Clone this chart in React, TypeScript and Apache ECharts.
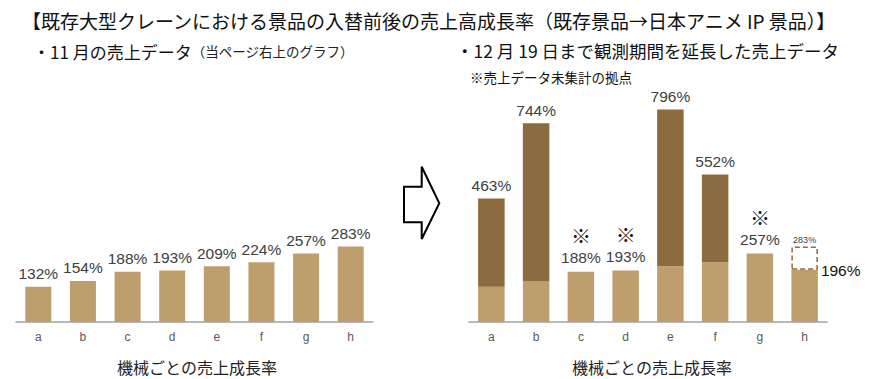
import React, { useEffect, useRef } from "react";
import * as echarts from "echarts";

const categories = ["a", "b", "c", "d", "e", "f", "g", "h"];
// November sales growth (left chart)
const novemberRates = [132, 154, 188, 193, 209, 224, 257, 283];
// Extended period (to Dec 19): light base part of each bar
const extendedBase = [132, 154, 188, 193, 209, 224, 257, 196];
// Extended period totals (dark top part reaches these)
const extendedTotals: (number | null)[] = [463, 744, null, null, 796, 552, null, null];
// Previous value shown as dashed box (machine h)
const previousRates: (number | null)[] = [null, null, null, null, null, null, null, 283];
// Locations whose sales data is not yet aggregated (marked with ※)
const uncounted = ["c", "d", "g"];

const titleText = "【既存大型クレーンにおける景品の入替前後の売上高成長率（既存景品→日本アニメ IP 景品）】";
const leftSubtitle = "・11 月の売上データ";
const leftSubtitleNote = "（当ページ右上のグラフ）";
const rightSubtitle = "・12 月 19 日まで観測期間を延長した売上データ";
const rightNote = "※売上データ未集計の拠点";
const axisTitle = "機械ごとの売上成長率";

const LIGHT = "#BF9E6E";
const DARK = "#8B6B3F";
const CJK = "'Noto Sans CJK JP', sans-serif";
const LATIN = "'Liberation Sans', Arial, sans-serif";

export default function App() {
  const ref = useRef<HTMLDivElement>(null);
  useEffect(() => {
    if (!ref.current) return;
    const chart = echarts.init(ref.current, null, { renderer: "svg" });

    const gridTop = 108.4;
    const gridH = 213.6;
    const yMax = 800;

    const xAxisCommon = {
      type: "category" as const,
      data: categories,
      axisLine: { lineStyle: { color: "#A3A3A3", width: 1.5 } },
      axisTick: { show: false },
      axisLabel: { color: "#595959", fontSize: 12, fontFamily: LATIN, margin: 9 },
    };
    const yAxisCommon = { type: "value" as const, min: 0, max: yMax, show: false, splitLine: { show: false } };

    const valueLabel = {
      show: true,
      position: "top" as const,
      distance: 5,
      color: "#404040",
      fontSize: 15.5,
      fontFamily: LATIN,
      formatter: (p: any) => `${p.value}%`,
    };

    const lightRight = extendedBase.map((v, i) => {
      const name = categories[i];
      if (extendedTotals[i] != null) return { value: v, label: { show: false } };
      if (previousRates[i] != null) {
        return {
          value: v,
          label: {
            show: true,
            position: ["100%", 0],
            offset: [3, 1],
            align: "left",
            verticalAlign: "middle",
            color: "#111",
            fontSize: 15.5,
            fontFamily: LATIN,
            formatter: `${v}%`,
          },
        };
      }
      if (uncounted.includes(name)) {
        return {
          value: v,
          label: {
            show: true,
            position: "top",
            distance: 5,
            formatter: `{k|※}\n{v|${v}%}`,
            rich: {
              k: { fontSize: 20, color: "#1a1a1a", lineHeight: 26, fontFamily: CJK, align: "center" },
              v: { fontSize: 15.5, color: "#404040", lineHeight: 18, fontFamily: LATIN, align: "center" },
            },
          },
        };
      }
      return { value: v, label: { ...valueLabel } };
    });

    const darkRight = extendedTotals.map((t, i) =>
      t == null ? "-" : { value: t - extendedBase[i], total: t }
    );

    const dashedRight = previousRates.map((p, i) => (p == null ? "-" : { value: p - extendedBase[i], prev: p }));

    chart.setOption({
      animation: false,
      grid: [
        { left: 16, width: 357, top: gridTop, height: gridH },
        { left: 469, width: 358, top: gridTop, height: gridH },
      ],
      xAxis: [
        { ...xAxisCommon, gridIndex: 0 },
        { ...xAxisCommon, gridIndex: 1 },
      ],
      yAxis: [
        { ...yAxisCommon, gridIndex: 0 },
        { ...yAxisCommon, gridIndex: 1 },
      ],
      series: [
        {
          type: "bar",
          xAxisIndex: 0,
          yAxisIndex: 0,
          data: novemberRates,
          barWidth: 26,
          itemStyle: { color: LIGHT },
          label: valueLabel,
        },
        {
          type: "bar",
          xAxisIndex: 1,
          yAxisIndex: 1,
          stack: "r",
          data: lightRight,
          barWidth: 26.5,
          itemStyle: { color: LIGHT },
        },
        {
          type: "bar",
          xAxisIndex: 1,
          yAxisIndex: 1,
          stack: "r",
          data: darkRight,
          barWidth: 26.5,
          itemStyle: { color: DARK },
          label: {
            ...valueLabel,
            formatter: (p: any) => `${p.data.total}%`,
          },
        },
        {
          type: "bar",
          xAxisIndex: 1,
          yAxisIndex: 1,
          stack: "r",
          data: dashedRight,
          barWidth: 26.5,
          itemStyle: {
            color: "rgba(0,0,0,0)",
            borderColor: DARK,
            borderType: [5, 3],
            borderWidth: 1.5,
          },
          label: {
            show: true,
            position: "top",
            distance: 2,
            color: "#404040",
            fontSize: 9,
            fontFamily: LATIN,
            formatter: (p: any) => `${p.data.prev}%`,
          },
        },
      ],
      graphic: [
        {
          type: "text",
          x: 22,
          y: 20,
          style: { text: titleText, fontSize: 19, fontFamily: CJK, fill: "#111", verticalAlign: "middle" },
        },
        {
          type: "text",
          x: 33,
          y: 51,
          style: {
            text: `{m|${leftSubtitle}}{n|${leftSubtitleNote}}`,
            verticalAlign: "middle",
            rich: {
              m: { fontSize: 17, fontFamily: CJK, fill: "#111" },
              n: { fontSize: 13.5, fontFamily: CJK, fill: "#222" },
            },
          },
        },
        {
          type: "text",
          x: 456,
          y: 50,
          style: { text: rightSubtitle, fontSize: 17.5, fontFamily: CJK, fill: "#111", verticalAlign: "middle" },
        },
        {
          type: "text",
          x: 470,
          y: 77,
          style: { text: rightNote, fontSize: 13.5, fontFamily: CJK, fill: "#111", verticalAlign: "middle" },
        },
        {
          type: "text",
          x: 197,
          y: 367,
          style: { text: axisTitle, fontSize: 16, fontFamily: CJK, fill: "#222", align: "center", verticalAlign: "middle" },
        },
        {
          type: "text",
          x: 652,
          y: 367,
          style: { text: axisTitle, fontSize: 16, fontFamily: CJK, fill: "#222", align: "center", verticalAlign: "middle" },
        },
        {
          type: "polygon",
          shape: {
            points: [
              [404, 186.7],
              [421.7, 186.7],
              [421.7, 166.7],
              [439.3, 203.3],
              [421.7, 239],
              [421.7, 222.3],
              [404, 222.3],
            ],
          },
          style: { fill: "#fff", stroke: "#000", lineWidth: 2 },
        },
      ],
    });
    return () => chart.dispose();
  }, []);
  return (
    <div
      ref={ref}
      style={{ position: "fixed", left: 0, top: 0, width: 870, height: 379, background: "#fff" }}
    />
  );
}
